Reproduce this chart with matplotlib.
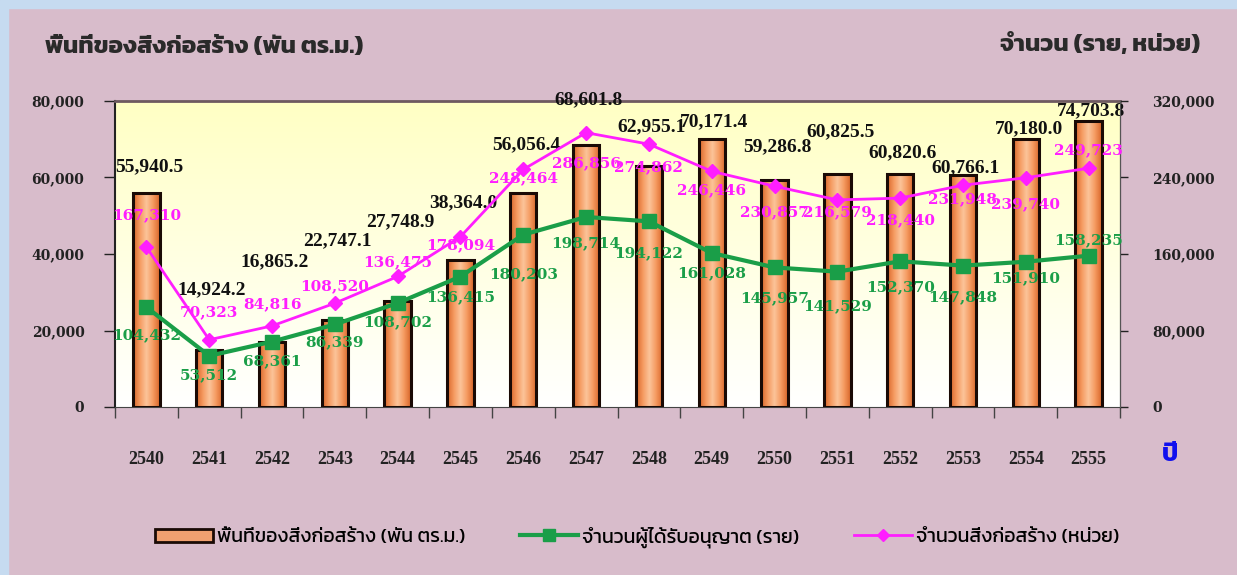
import numpy as np
import matplotlib
matplotlib.use("Agg")
import matplotlib.pyplot as plt
from matplotlib import font_manager
from matplotlib.ft2font import FT2Font
from matplotlib.patches import Rectangle, Patch
from matplotlib.lines import Line2D
from matplotlib.ticker import FuncFormatter, MultipleLocator

years = ["2540", "2541", "2542", "2543", "2544", "2545", "2546", "2547",
         "2548", "2549", "2550", "2551", "2552", "2553", "2554", "2555"]
area = [55940.5, 14924.2, 16865.2, 22747.1, 27748.9, 38364.0, 56056.4, 68601.8,
        62955.1, 70171.4, 59286.8, 60825.5, 60820.6, 60766.1, 70180.0, 74703.8]
permits = [104432, 53512, 68361, 86339, 108702, 136415, 180203, 198714,
           194122, 161028, 145957, 141529, 152370, 147848, 151910, 158235]
buildings = [167310, 70323, 84816, 108520, 136475, 178094, 248464, 286856,
             274862, 246446, 230857, 216579, 218440, 231948, 239740, 249723]

area_label = "พื้นที่ของสิ่งก่อสร้าง (พัน ตร.ม.)"
permit_label = "จำนวนผู้ได้รับอนุญาต (ราย)"
build_label = "จำนวนสิ่งก่อสร้าง (หน่วย)"

# label offsets in pixels (negative = above the mark)
area_dy = [-26, -60, -81, -79, -79, -58, -48, -45, -39, -17, -33, -43, -22, -7, -10, -11]
permit_dy = [28, 19, 20, 18, 19, 21, 40, 26, 32, 20, 31, 35, 26, 32, 16, -16]
build_dy = [-32, -28, -22, -17, -14, 8, 9, 30, 23, 19, 26, 12, 22, 14, 26, -18]


# pick a font with Thai glyphs whose tone marks don't advance the pen
def find_thai_font():
    best = None
    for path in font_manager.findSystemFonts():
        try:
            f = FT2Font(path)
            cmap = f.get_charmap()
        except Exception:
            continue
        if 0x0E01 not in cmap or 0x0E49 not in cmap:
            continue
        try:
            adv = f.load_char(0x0E49).linearHoriAdvance
        except Exception:
            adv = 1e9
        name = font_manager.FontProperties(fname=path).get_name()
        score = (adv != 0, "Mono" in name, "Bold" in path, adv)
        if best is None or score < best[0]:
            best = (score, name)
    return best[1] if best else None

thai = find_thai_font()
thai_fam = [thai, "DejaVu Sans"] if thai else ["DejaVu Sans"]
serif = ["Liberation Serif", "DejaVu Serif"]
wide_serif = ["DejaVu Serif"]

bg = "#d8bccb"
fig = plt.figure(figsize=(12.37, 5.75), dpi=100, facecolor=bg)
# blue strips on the left / top edge
fig.patches.append(Rectangle((0, 0), 8 / 1237, 1, transform=fig.transFigure, color="#c6dbf0", zorder=0))
fig.patches.append(Rectangle((0, 1 - 8 / 575), 1, 8 / 575, transform=fig.transFigure, color="#c6dbf0", zorder=0))

ax = fig.add_axes([115 / 1237, 1 - 407 / 575, 1005 / 1237, 306 / 575])
ax2 = ax.twinx()
ax.set_zorder(ax2.get_zorder() - 1)
ax.patch.set_visible(False)

x = np.arange(len(years))
ax.set_xlim(-0.5, len(years) - 0.5)
ax.set_ylim(0, 80000)
ax2.set_ylim(0, 320000)

# plot area gradient (pale yellow -> white)
grad = np.linspace(0, 1, 256).reshape(-1, 1)
cm_bg = matplotlib.colors.LinearSegmentedColormap.from_list("bgc", ["#ffffff", "#ffffc4"])
ax.imshow(grad, aspect="auto", cmap=cm_bg, extent=[-0.5, len(years) - 0.5, 0, 80000],
          origin="lower", zorder=0)

bars = ax.bar(x, area, width=0.42, color="#f0a070", edgecolor="#1a0a05", linewidth=2, zorder=2)
cm_bar = matplotlib.colors.LinearSegmentedColormap.from_list(
    "barc", ["#d8662a", "#f59a60", "#fcc49a", "#f59a60", "#d8662a"])
hgrad = np.linspace(0, 1, 64).reshape(1, -1)
for b in bars:
    im = ax.imshow(hgrad, aspect="auto", cmap=cm_bar,
                   extent=[b.get_x(), b.get_x() + b.get_width(), 0, b.get_height()], zorder=2.5)
    im.set_clip_path(b)
    ax.add_patch(Rectangle((b.get_x(), 0), b.get_width(), b.get_height(), fill=False,
                           edgecolor="#1a0a05", linewidth=2.2, zorder=3))

px = 0.72  # points per pixel at dpi 100
for xi, v, dy in zip(x, area, area_dy):
    ax.annotate(f"{v:,.1f}", (xi, v), xytext=(2, -dy * px), textcoords="offset points",
                ha="center", va="center", fontsize=14, fontweight="bold",
                family=serif, color="#111111", zorder=6)

green = "#1a9e48"
magenta = "#ff1eff"
ax2.plot(x, permits, color=green, lw=3, marker="s", ms=10, zorder=4)
ax2.plot(x, buildings, color=magenta, lw=2, marker="D", ms=7, zorder=4)

for xi, v, dy in zip(x, permits, permit_dy):
    ax2.annotate(f"{v:,}", (xi, v), xytext=(0, -dy * px), textcoords="offset points",
                 ha="center", va="center", fontsize=11, fontweight="bold",
                 family=wide_serif, color=green, zorder=6)
for xi, v, dy in zip(x, buildings, build_dy):
    ax2.annotate(f"{v:,}", (xi, v), xytext=(0, -dy * px), textcoords="offset points",
                 ha="center", va="center", fontsize=11, fontweight="bold",
                 family=wide_serif, color=magenta, zorder=6)

# axes styling
ax.spines["top"].set_visible(False)
ax2.spines["top"].set_visible(False)
ax.spines["left"].set_color("#222222")
ax.spines["left"].set_linewidth(1.5)
ax.spines["bottom"].set_color("#444444")
ax2.spines["right"].set_color("#555555")
ax2.spines["left"].set_visible(False)
ax2.spines["bottom"].set_visible(False)
ax.plot([0, 1], [1, 1], transform=ax.transAxes, color="#6e5a60", lw=2, clip_on=False, zorder=5)

fmt = FuncFormatter(lambda v, p: f"{v:,.0f}")
ax.yaxis.set_major_locator(MultipleLocator(20000))
ax.yaxis.set_major_formatter(fmt)
ax2.yaxis.set_major_locator(MultipleLocator(80000))
ax2.yaxis.set_major_formatter(fmt)
ax.tick_params(axis="y", length=8, width=1, pad=14, labelsize=10, colors="#222222")
ax2.tick_params(axis="y", length=6, width=1, pad=17, labelsize=10, colors="#222222")
for lab in ax.get_yticklabels() + ax2.get_yticklabels():
    lab.set_family(wide_serif)
    lab.set_fontweight("bold")

ax.set_xticks(np.arange(len(years) + 1) - 0.5, minor=True)
ax.set_xticks(x)
ax.set_xticklabels(years, family=serif, fontweight="bold", fontsize=13)
ax.tick_params(axis="x", which="major", length=0, pad=32, colors="#222222")
ax.tick_params(axis="x", which="minor", length=8, width=1, color="#444444")

fig.text(45 / 1237, 1 - 47 / 575, area_label, family=thai_fam, fontsize=17.5,
         fontweight="bold", color="#2a2a2a", va="center", ha="left")
fig.text(1200 / 1237, 1 - 45 / 575, "จำนวน (ราย, หน่วย)", family=thai_fam, fontsize=17.5,
         fontweight="bold", color="#2a2a2a", va="center", ha="right")
fig.text(1170 / 1237, 1 - 455 / 575, "ปี", family=thai_fam, fontsize=18,
         fontweight="bold", color="#1010ee", va="center", ha="center")

handles = [
    Patch(facecolor="#f0a070", edgecolor="#1a0a05", linewidth=2),
    Line2D([], [], color=green, lw=3, marker="s", ms=8),
    Line2D([], [], color=magenta, lw=2, marker="D", ms=6),
]
fig.legend(handles, [area_label, permit_label, build_label], loc="center",
           bbox_to_anchor=(637 / 1237, 1 - 537 / 575), ncol=3, frameon=False,
           prop=font_manager.FontProperties(family=thai_fam, size=14),
           handlelength=3.0, columnspacing=2.8, handletextpad=0.2)

fig.savefig("out.png", dpi=100, facecolor=bg)
